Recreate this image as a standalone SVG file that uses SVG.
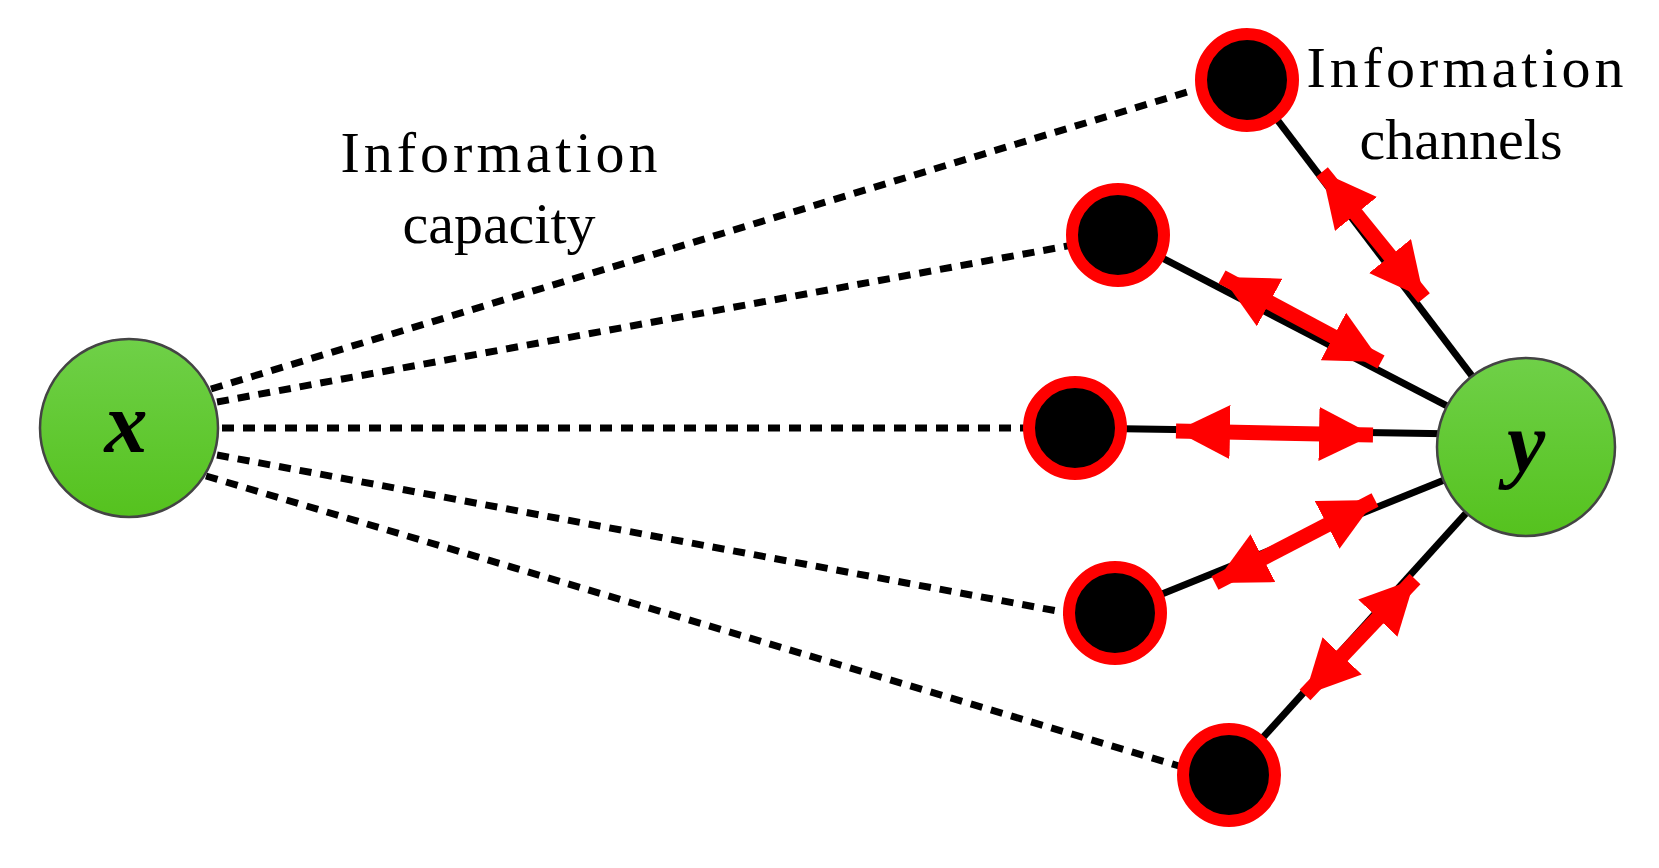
<svg xmlns="http://www.w3.org/2000/svg" width="1659" height="868" viewBox="0 0 1659 868">
<defs>
<linearGradient id="g" x1="0" y1="0" x2="0" y2="1"><stop offset="0" stop-color="#6fd048"/><stop offset="1" stop-color="#55c21e"/></linearGradient>
<marker id="ah" viewBox="0 0 10 10" refX="10" refY="5" markerWidth="3.6" markerHeight="3.6" orient="auto-start-reverse" markerUnits="strokeWidth"><path d="M0,0 L10,5 L0,10 Z" fill="#ff0000"/></marker>
</defs>
<style>
.d{stroke:#000;stroke-width:7;stroke-dasharray:12 9;fill:none}
.s{stroke:#000;stroke-width:7;fill:none}
.r{stroke:#ff0000;stroke-width:15;fill:none;marker-start:url(#ah);marker-end:url(#ah)}
.b{fill:#000;stroke:#ff0000;stroke-width:12}
.g{fill:url(#g);stroke:#444;stroke-width:2.5}
.t{font-family:"Liberation Serif",serif;font-size:58px;fill:#000;text-anchor:middle}
.v{font-family:"Liberation Serif",serif;font-style:italic;font-weight:bold;font-size:86px;fill:#000;text-anchor:middle}
</style>
<g id="connectors">
<line class="d" x1="211" y1="389" x2="1194" y2="90"/>
<line class="d" x1="217" y1="402" x2="1073" y2="245"/>
<line class="d" x1="222" y1="428" x2="1031" y2="428"/>
<line class="d" x1="217" y1="455" x2="1068" y2="613"/>
<line class="d" x1="206" y1="476" x2="1179" y2="766"/>
<line class="s" x1="1247" y1="80" x2="1526" y2="447"/>
<line class="s" x1="1118" y1="235" x2="1526" y2="447"/>
<line class="s" x1="1075" y1="428" x2="1526" y2="435"/>
<line class="s" x1="1115" y1="613" x2="1526" y2="447"/>
<line class="s" x1="1229" y1="775" x2="1526" y2="447"/>
<line class="r" x1="1322" y1="172" x2="1424" y2="298"/>
<line class="r" x1="1222" y1="277" x2="1381" y2="362"/>
<line class="r" x1="1176" y1="431" x2="1373" y2="435"/>
<line class="r" x1="1215" y1="583" x2="1375" y2="500"/>
<line class="r" x1="1305" y1="695" x2="1415" y2="579"/>
</g>
<g id="n1"><circle class="b" cx="1247" cy="80" r="46"/></g>
<g id="n2"><circle class="b" cx="1118" cy="235" r="46"/></g>
<g id="n3"><circle class="b" cx="1075" cy="428" r="46"/></g>
<g id="n4"><circle class="b" cx="1115" cy="613" r="46"/></g>
<g id="n5"><circle class="b" cx="1229" cy="775" r="46"/></g>
<g id="x"><circle class="g" cx="129" cy="428" r="89"/><text class="v" x="126" y="452">x</text></g>
<g id="y"><circle class="g" cx="1526" cy="447" r="89"/><text class="v" x="1526" y="471">y</text></g>
<g id="l1"><text class="t" x="499" y="172" textLength="317">Information</text><text class="t" x="499" y="243">capacity</text></g>
<g id="l2"><text class="t" x="1465" y="87" textLength="317">Information</text><text class="t" x="1461" y="159">channels</text></g>
</svg>
